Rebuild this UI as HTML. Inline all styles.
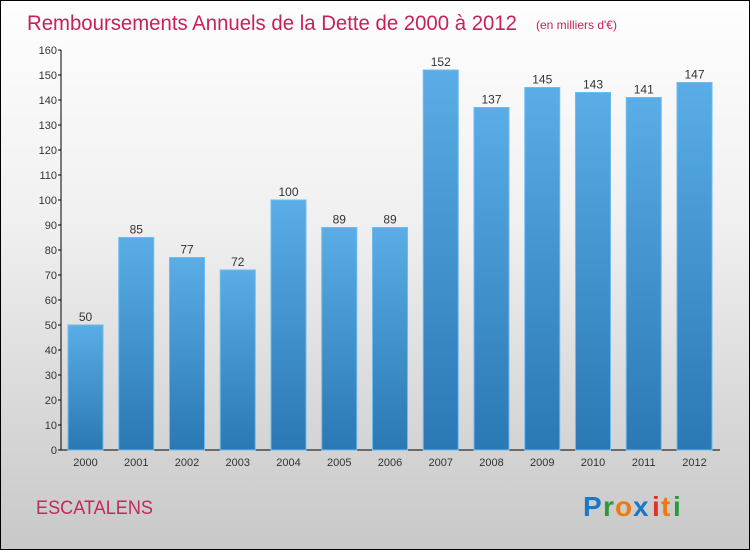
<!DOCTYPE html>
<html><head><meta charset="utf-8"><style>
body{margin:0;width:750px;height:550px;overflow:hidden;font-family:"Liberation Sans",sans-serif}
#wrap{position:absolute;left:0;top:0;width:748px;height:548px;border:1px solid #000;background:linear-gradient(#fefefe 0%,#f0f0f0 40%,#d8d8d8 75%,#c8c8c8 100%)}
</style></head><body>
<div id="wrap">
<svg id="svg" width="750" height="550" style="position:absolute;left:-1px;top:-1px">
<defs><linearGradient id="bg" x1="0" y1="0" x2="0" y2="1"><stop offset="0" stop-color="#5aade6"/><stop offset="1" stop-color="#2a78b4"/></linearGradient></defs>
<text x="27" y="30" font-size="21" fill="#c8205a" textLength="490" lengthAdjust="spacingAndGlyphs">Remboursements Annuels de la Dette de 2000 à 2012</text>
<text x="536" y="29" font-size="12" fill="#c8205a">(en milliers d'€)</text>
<g id="axes"></g><g id="bars"></g>
<text x="36" y="514" font-size="19" fill="#c02a5e" textLength="117" lengthAdjust="spacingAndGlyphs">ESCATALENS</text>
<g font-size="28" font-weight="bold" font-family="Liberation Sans,sans-serif">
<text x="583" y="516" fill="#1a78c8">P</text><text x="603" y="516" fill="#2a9a3a">r</text><text x="615" y="516" fill="#f07a10">o</text><text x="633" y="516" fill="#1a78c8">x</text><text x="652" y="516" fill="#e0302a">i</text><text x="661" y="516" fill="#f07a10">t</text><text x="673" y="516" fill="#2a9a3a">i</text></g>
</svg></div>
<script>
const years=["2000","2001","2002","2003","2004","2005","2006","2007","2008","2009","2010","2011","2012"];
const values=[50,85,77,72,100,89,89,152,137,145,143,141,147];
const yTicks=[0,10,20,30,40,50,60,70,80,90,100,110,120,130,140,150,160];
const NS="http://www.w3.org/2000/svg";
const y0=450,pxPer=2.5,x0=68,step=50.75,bw=35;
const y=v=>y0-v*pxPer, x=i=>x0+i*step;
const ax=document.getElementById('axes'),bg=document.getElementById('bars');
function mk(t,a,p){const e=document.createElementNS(NS,t);for(const k in a)e.setAttribute(k,a[k]);p.appendChild(e);return e;}
const yl=mk('line',{x1:61,y1:50,x2:61,y2:450,stroke:'#000'},ax);


const xl=mk('line',{x1:61,y1:450,x2:720,y2:450,stroke:'#000'},ax);


yTicks.forEach(t=>{mk('line',{x1:58,x2:61,y1:y(t),y2:y(t),stroke:'#000'},ax);
const tx=mk('text',{x:57,y:y(t)+4,'font-size':11,'text-anchor':'end',fill:'#333'},ax);tx.textContent=t;

});
values.forEach((v,i)=>{const r=mk('rect',{x:x(i),y:y(v),width:bw,height:v*pxPer,fill:'url(#bg)',stroke:'#6fbbee','stroke-width':1},bg);


const l=mk('text',{x:x(i)+bw/2,y:y(v)-4,'font-size':12,'text-anchor':'middle',fill:'#333'},bg);l.textContent=v;


const xt=mk('text',{x:x(i)+bw/2,y:466,'font-size':11,'text-anchor':'middle',fill:'#333'},bg);xt.textContent=years[i];

});
</script>
</body></html>
